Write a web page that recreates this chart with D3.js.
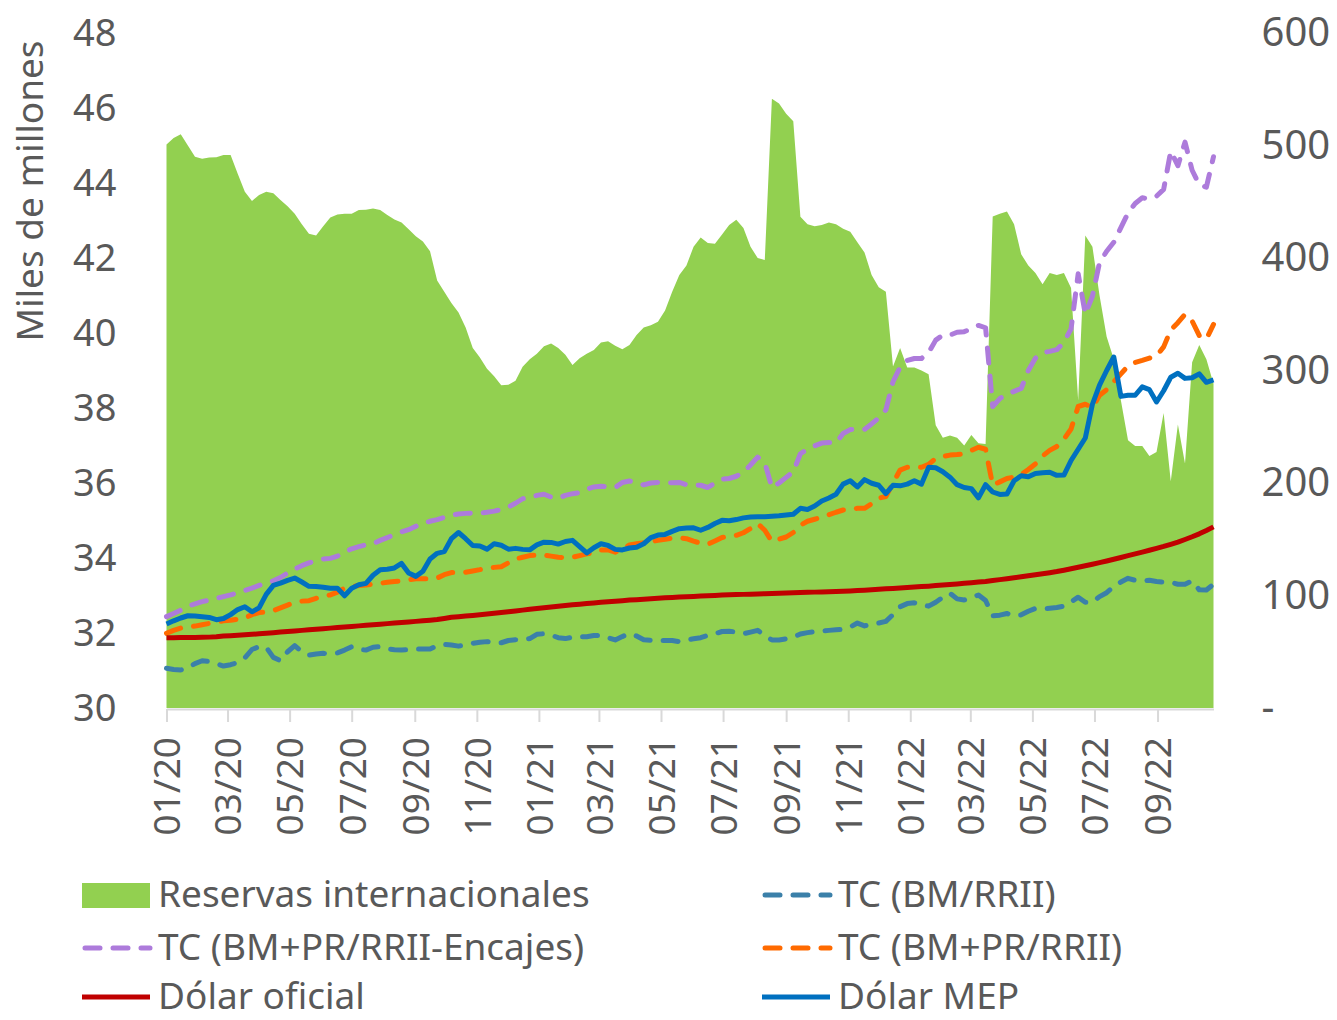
<!DOCTYPE html>
<html>
<head>
<meta charset="utf-8">
<script src="https://cdn.jsdelivr.net/npm/d3@7"></script>
<style>
  body { margin: 0; background: #fff; }
  svg text { font-family: "Noto Sans", Lato, sans-serif; fill: #595959; }
</style>
</head>
<body>
<svg></svg>
<script>
const width = 1337;
const height = 1020;
const plotLeft = 166.5, plotRight = 1213.5, plotTop = 33, plotBottom = 708;

// weekly observations, first one on 1 Jan 2020
const startDate = new Date(2020, 0, 1);
const endDate = new Date(2022, 9, 26);

const leftTicks = [30, 32, 34, 36, 38, 40, 42, 44, 46, 48];
const rightTicks = [0, 100, 200, 300, 400, 500, 600];

// Reservas internacionales (miles de millones USD, eje izq.)
const reservas = [
  45.03, 45.2, 45.3, 45.0, 44.7, 44.65, 44.68, 44.69, 44.75, 44.75,
  44.25, 43.77, 43.52, 43.68, 43.77, 43.73, 43.55, 43.38, 43.18, 42.9,
  42.65, 42.6, 42.85, 43.08, 43.16, 43.18, 43.18, 43.28, 43.29, 43.32,
  43.28, 43.15, 43.03, 42.95, 42.77, 42.58, 42.44, 42.18, 41.4, 41.1,
  40.8, 40.55, 40.15, 39.6, 39.35, 39.05, 38.85, 38.61, 38.62, 38.73,
  39.1, 39.3, 39.45, 39.65, 39.72, 39.6, 39.42, 39.15, 39.33, 39.45,
  39.55, 39.75, 39.78, 39.66, 39.57, 39.68, 39.95, 40.15, 40.21, 40.3,
  40.6, 41.1, 41.55, 41.8, 42.3, 42.55, 42.4, 42.38, 42.63, 42.88,
  43.02, 42.8, 42.3, 42.0, 41.95, 46.25, 46.12, 45.85, 45.65, 43.1,
  42.9, 42.85, 42.88, 42.95, 42.9, 42.78, 42.7, 42.42, 42.15, 41.55,
  41.22, 41.1, 39.11, 39.6, 39.08, 39.08, 39.0, 38.9, 37.54, 37.21,
  37.27, 37.21, 37.0, 37.28, 37.06, 37.04, 43.11, 43.18, 43.24, 42.9,
  42.1, 41.8, 41.6, 41.3, 41.6, 41.55, 41.6, 41.2, 38.2, 42.6,
  42.3, 41.0, 39.9, 39.3, 38.2, 37.14, 36.99, 36.99, 36.72, 36.83,
  37.87, 36.05, 37.56, 36.52, 39.22, 39.68, 39.3, 38.65
];

// TC (BM/RRII)
const tcBm = [
  35.3, 34.2, 33.8, 35.8, 39.5, 42, 41.3, 39.5, 37.3, 38.5,
  40.5, 44.5, 52, 54.5, 54, 45, 42, 50, 55.5, 50,
  47, 48, 48.6, 48.2, 49, 51.5, 54.5, 52, 51.5, 54,
  54.5, 52.5, 51.8, 51.5, 51.8, 52.4, 52.4, 52.4, 55.5, 56.5,
  56, 55, 56, 57.5, 58.5, 59, 58, 58, 60, 60.6,
  60.5, 61.7, 65.5, 66, 64.8, 62.5, 61.7, 63, 63.4, 63.4,
  64.5, 64.5, 62.5, 60.5, 63.5, 66, 64, 60.6, 60.2, 60,
  60, 60, 59, 60.5, 61.5, 62.5, 64.5, 66, 68, 68.3,
  67.5, 66, 67.5, 69, 64.5, 60.5, 60.5, 61.5, 63, 65.8,
  67, 67.8, 68.5, 69, 69.5, 70, 72, 75.5, 73, 74.5,
  75.5, 77, 83, 90, 92.8, 93.5, 92, 90.5, 94, 98.5,
  102, 97, 96, 98.3, 100.4, 95.5, 82, 82.5, 84, 82,
  82.8, 86, 88.5, 88, 88.6, 89.3, 90.5, 94.3, 98.5, 94,
  94, 99, 102.5, 108, 112, 115.3, 113.5, 112.8, 113.5, 112.5,
  111.8, 111.8, 110, 110, 113, 105, 104.9, 110
];

// TC (BM+PR/RRII-Encajes)
const tcEncajes = [
  81.2, 84, 87, 90.5, 92.5, 94.5, 96, 97.5, 99, 100.5,
  102.5, 104.5, 106.5, 109, 111, 113, 116, 120, 123.5, 126.5,
  129, 131, 132.5, 133, 135, 138.5, 141.5, 143.5, 145, 146,
  149, 151.5, 154, 156.5, 158.5, 161.5, 164, 166, 167.5, 169.5,
  171.3, 172.5, 173, 173.3, 173.3, 174, 175, 176.5, 178.6, 182,
  186, 187.5, 189, 190, 187.5, 186.5, 189, 190.5, 191.5, 194.5,
  196.5, 197.2, 196.5, 196, 200.5, 201.8, 200, 198.3, 200, 200.5,
  200, 200.3, 200.5, 198.5, 198.3, 198, 196, 200, 203.5, 204,
  206, 209.7, 216, 223, 218, 195.8, 200, 205, 210, 226,
  230, 233, 235.5, 236, 235.5, 244, 247.5, 247.7, 247.7, 252.5,
  258, 265, 290, 303, 309, 310.7, 310.7, 316, 327, 331.5,
  331.5, 334, 334.5, 337, 340.1, 338, 268, 275, 279, 281.5,
  284, 300, 311, 315.9, 317, 318.5, 325, 337, 386, 350,
  366, 396, 406, 414, 427, 440, 448.5, 453.5, 452.5, 455,
  461, 495, 482, 503, 478, 465, 463, 490
];

// TC (BM+PR/RRII)
const tcPr = [
  66.4, 69, 71, 72, 72.8, 74, 75.2, 76.2, 77.5, 78,
  79, 80, 83, 84.8, 85.3, 86.5, 89, 91.5, 94, 95,
  95.4, 97.5, 99.5, 100.5, 103, 106.5, 108, 108.8, 109.3, 110.2,
  110.8, 111.8, 112.5, 113, 114, 114.8, 115, 115, 115.5, 118.5,
  120.4, 120.4, 120.6, 121.8, 123, 124.4, 125, 125.6, 129, 132.5,
  134, 135.5, 136, 136, 135, 134, 133.6, 134, 135.5, 137,
  138, 140.5, 140.5, 138.5, 141.5, 145, 146, 147, 147.8, 149,
  150, 151, 151.3, 150.5, 148.3, 146.5, 145.5, 148.5, 151.6, 152.5,
  153.5, 155.8, 159.5, 164, 158, 148, 150, 152, 156, 162.5,
  166, 167.8, 169.5, 171.8, 174, 176, 177, 177.5, 177.5, 181.5,
  186.5, 188, 200, 211.5, 214, 214.5, 214, 216.5, 222, 223.5,
  224.8, 225.3, 226, 229, 231.8, 230, 198, 201, 204, 205.3,
  207.5, 212, 217, 224, 229, 232.5, 239, 248, 268, 270,
  267, 278, 283, 290, 297, 304, 307.2, 309, 311, 313,
  321, 336, 342.5, 350, 344, 331, 328, 341
];

// Dólar oficial
const oficial = [
  62.5, 62.5, 62.6, 62.6, 62.7, 62.8, 63.0, 63.3, 63.9, 64.3,
  64.7, 65.1, 65.5, 65.9, 66.4, 66.9, 67.5, 68.0, 68.5, 69.0,
  69.5, 70.0, 70.5, 71.0, 71.5, 72.0, 72.5, 73.0, 73.5, 74.0,
  74.5, 75.0, 75.5, 76.0, 76.5, 77.0, 77.6, 78.1, 78.6, 79.6,
  80.6, 81.1, 81.7, 82.3, 82.9, 83.5, 84.2, 84.9, 85.6, 86.3,
  87.0, 87.7, 88.4, 89.1, 89.8, 90.5, 91.1, 91.7, 92.3, 92.9,
  93.4, 93.9, 94.4, 94.9, 95.4, 95.9, 96.3, 96.7, 97.1, 97.5,
  97.9, 98.3, 98.6, 98.9, 99.2, 99.5, 99.8, 100.1, 100.4, 100.6,
  100.8, 101.0, 101.2, 101.4, 101.6, 101.8, 102.0, 102.2, 102.4, 102.6,
  102.8, 103.0, 103.2, 103.4, 103.6, 103.8, 104.1, 104.4, 104.7, 105.1,
  105.5, 105.9, 106.3, 106.7, 107.1, 107.5, 107.9, 108.3, 108.8, 109.3,
  109.8, 110.3, 110.8, 111.3, 111.9, 112.5, 113.3, 114.1, 114.9, 115.7,
  116.6, 117.5, 118.4, 119.3, 120.3, 121.3, 122.5, 123.8, 125.1, 126.4,
  127.8, 129.2, 130.7, 132.2, 133.8, 135.4, 137.0, 138.6, 140.2, 141.9,
  143.6, 145.5, 147.5, 149.8, 152.2, 154.8, 157.8, 161.0
];

// Dólar MEP
const mep = [
  74.7, 77.5, 80, 82, 81.8, 81.2, 80.5, 78.5, 79.5, 83,
  87.5, 90, 85.5, 89, 101, 109, 111, 113.5, 115.5, 112,
  108.2, 108, 107.3, 106.4, 106.4, 99.8, 106.5, 109.5, 110.8, 118,
  122.8, 123.3, 124.5, 128.5, 120, 117, 121.5, 132.5, 137.5, 139,
  150.5, 156, 150.5, 144.4, 144, 141.2, 146, 144.7, 141.2, 141.9,
  141, 140.6, 145, 147.4, 147.2, 145.7, 148, 149, 143.5, 137.8,
  142.5, 146, 144.5, 141, 140.5, 142.2, 142.9, 146, 151.5, 153.7,
  154.3, 157, 159.4, 160, 160.2, 158, 160.5, 164, 166.8, 166.4,
  167.5, 169, 169.8, 170, 170, 170.4, 170.9, 171.6, 172.2, 177.5,
  176.5, 179.5, 184, 186.7, 190, 199, 202, 196.5, 203, 199.8,
  198, 190.5, 198, 197.5, 199, 202, 199, 213.9, 213.5, 210,
  205.2, 198.5, 196, 195, 186.8, 198.5, 192, 189.8, 190.2, 202,
  206.5, 205.5, 208.5, 209.2, 209.5, 206.8, 207, 220, 230, 240,
  270, 287, 300, 312, 277, 278, 278, 285.5, 283, 272,
  282, 294, 297.5, 293, 293.5, 297, 289.5, 291.6
];

const dates = reservas.map((d, i) => d3.timeDay.offset(startDate, 7 * i));

const svg = d3.select("svg")
  .attr("width", width)
  .attr("height", height);

const x = d3.scaleTime()
  .domain([startDate, endDate])
  .range([plotLeft, plotRight]);

const yLeft = d3.scaleLinear()
  .domain([30, 48])
  .range([plotBottom, plotTop]);

const yRight = d3.scaleLinear()
  .domain([0, 600])
  .range([plotBottom, plotTop]);

// area of reserves
const area = d3.area()
  .x((d, i) => x(dates[i]))
  .y0(yLeft(30))
  .y1(d => yLeft(d));

svg.append("path")
  .datum(reservas)
  .attr("d", area)
  .attr("fill", "#92D050");

// lines on the right axis
const lineSeries = [
  { name: "TC (BM/RRII)", values: tcBm, color: "#3B80A9", dash: "15,13" },
  { name: "TC (BM+PR/RRII-Encajes)", values: tcEncajes, color: "#AD7BDB", dash: "15,13" },
  { name: "TC (BM+PR/RRII)", values: tcPr, color: "#FF6A00", dash: "15,13" },
  { name: "Dólar oficial", values: oficial, color: "#C00000", dash: null },
  { name: "Dólar MEP", values: mep, color: "#0070C0", dash: null }
];

const line = d3.line()
  .x((d, i) => x(dates[i]))
  .y(d => yRight(d));

svg.append("g")
  .selectAll("path")
  .data(lineSeries)
  .enter()
  .append("path")
    .attr("d", d => line(d.values))
    .attr("fill", "none")
    .attr("stroke", d => d.color)
    .attr("stroke-width", 5)
    .attr("stroke-linejoin", "round")
    .attr("stroke-linecap", d => d.dash ? "round" : "butt")
    .attr("stroke-dasharray", d => d.dash);

// bottom axis
const xAxis = d3.axisBottom(x)
  .ticks(d3.timeMonth.every(2))
  .tickFormat(d3.timeFormat("%m/%y"))
  .tickSize(13)
  .tickSizeOuter(0);

const gx = svg.append("g")
  .attr("transform", `translate(0,${plotBottom + 1})`)
  .call(xAxis);

gx.select(".domain").attr("stroke", "#D9D9D9").attr("stroke-width", 2);
gx.selectAll(".tick line").attr("stroke", "#D9D9D9").attr("stroke-width", 2);
gx.selectAll(".tick text")
  .style("font-size", "37px")
  .style("fill", "#595959")
  .attr("text-anchor", "end")
  .attr("transform", "translate(0,28) rotate(-90)")
  .attr("x", 0)
  .attr("y", 0)
  .attr("dy", "0.36em");

// left axis
const gyl = svg.append("g")
  .attr("transform", `translate(${plotLeft},0)`)
  .call(d3.axisLeft(yLeft).tickValues(leftTicks).tickSize(0).tickPadding(50));
gyl.select(".domain").remove();
gyl.selectAll("text").style("font-size", "38px").style("fill", "#595959");

// right axis
const gyr = svg.append("g")
  .attr("transform", `translate(${plotRight},0)`)
  .call(d3.axisRight(yRight).tickValues(rightTicks).tickSize(0).tickPadding(48)
    .tickFormat(d => d === 0 ? "-" : d));
gyr.select(".domain").remove();
gyr.selectAll("text").style("font-size", "40px").style("fill", "#595959");

svg.append("text")
  .attr("transform", "rotate(-90)")
  .attr("x", -191)
  .attr("y", 30)
  .attr("dy", "0.35em")
  .style("font-size", "37px")
  .style("text-anchor", "middle")
  .text("Miles de millones");

// legend
const legendItems = [
  { name: "Reservas internacionales", color: "#92D050", type: "area" },
  lineSeries[0], lineSeries[1], lineSeries[2], lineSeries[3], lineSeries[4]
];
const legendCols = [82, 762];
const legendRows = [895, 948, 997];

const legend = svg.append("g")
  .selectAll("g")
  .data(legendItems)
  .enter()
  .append("g")
    .attr("transform", (d, i) => `translate(${legendCols[i % 2]},${legendRows[Math.floor(i / 2)]})`);

legend.filter(d => d.type === "area")
  .append("rect")
    .attr("x", 0)
    .attr("y", -12)
    .attr("width", 68)
    .attr("height", 25)
    .attr("fill", d => d.color);

legend.filter(d => d.type !== "area")
  .append("line")
    .attr("x1", d => d.dash ? 3 : 0)
    .attr("x2", 68)
    .attr("y1", 0)
    .attr("y2", 0)
    .attr("stroke", d => d.color)
    .attr("stroke-width", 5)
    .attr("stroke-linecap", d => d.dash ? "round" : "butt")
    .attr("stroke-dasharray", d => d.dash);

legend.append("text")
  .attr("x", 76)
  .attr("y", 0)
  .attr("dy", "0.33em")
  .style("font-size", "37px")
  .text(d => d.name);
</script>
</body>
</html>
